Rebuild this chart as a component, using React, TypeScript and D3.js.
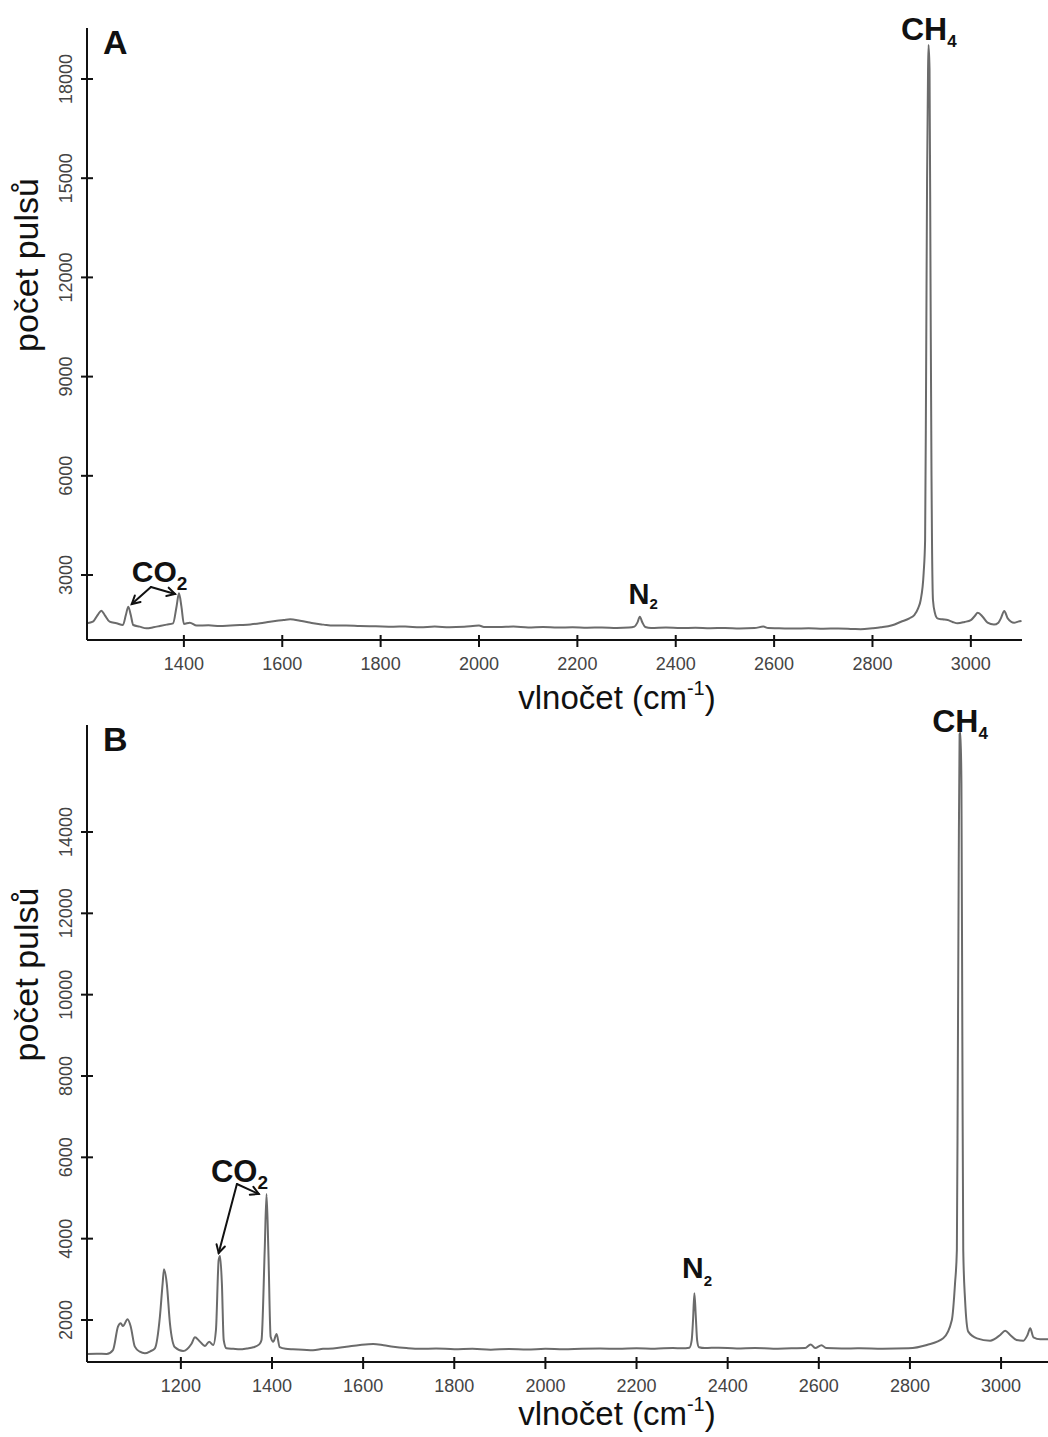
import React from "react";
import * as d3 from "d3";

// ---------- DATA ----------
// Panel A spectrum: [wavenumber (cm-1), counts]
const spectrumA: [number, number][] = [
  [1203, 1540], [1215, 1588], [1226, 1820], [1232, 1920], [1239, 1790], [1249, 1588],
  [1263, 1540], [1276, 1488], [1282, 1790], [1287, 2042], [1292, 1790], [1297, 1488],
  [1310, 1440], [1324, 1387], [1338, 1420], [1351, 1458], [1365, 1500], [1378, 1540],
  [1385, 2042], [1390, 2445], [1395, 2042], [1400, 1520], [1412, 1560], [1426, 1470],
  [1450, 1480], [1473, 1458], [1495, 1475], [1514, 1488], [1535, 1505], [1555, 1540],
  [1575, 1590], [1589, 1618], [1603, 1640], [1616, 1660], [1636, 1618], [1650, 1580],
  [1663, 1540], [1684, 1500], [1704, 1470], [1730, 1475], [1758, 1458], [1790, 1450],
  [1826, 1438], [1850, 1445], [1880, 1418], [1910, 1440], [1940, 1420], [1970, 1435],
  [2000, 1470], [2010, 1430], [2040, 1425], [2070, 1440], [2100, 1415], [2130, 1430],
  [2160, 1410], [2190, 1420], [2220, 1405], [2250, 1415], [2280, 1400], [2305, 1410],
  [2316, 1440], [2322, 1560], [2327, 1740], [2332, 1570], [2338, 1430], [2350, 1400],
  [2380, 1410], [2410, 1395], [2440, 1405], [2470, 1390], [2500, 1400], [2530, 1385],
  [2560, 1395], [2578, 1440], [2588, 1395], [2610, 1390], [2640, 1380], [2670, 1390],
  [2700, 1375], [2730, 1385], [2760, 1370], [2776, 1362], [2800, 1390], [2817, 1418],
  [2840, 1480], [2858, 1588], [2875, 1690], [2885, 1790], [2893, 2000], [2898, 2244],
  [2904, 3050], [2907, 4058], [2909, 9000], [2911, 15000], [2913, 18300], [2914, 19030],
  [2916, 18300], [2918, 12000], [2920, 6000], [2921, 4058], [2923, 2244], [2927, 1850],
  [2932, 1690], [2942, 1660], [2953, 1639], [2963, 1580], [2973, 1540], [2987, 1580],
  [3000, 1639], [3008, 1760], [3014, 1860], [3024, 1740], [3034, 1560], [3047, 1500],
  [3056, 1560], [3061, 1690], [3068, 1911], [3075, 1690], [3088, 1560], [3096, 1590],
  [3103, 1610],
];

// Panel B spectrum: [wavenumber (cm-1), counts]
const spectrumB: [number, number][] = [
  [994, 1164], [1015, 1170], [1037, 1164], [1051, 1262], [1062, 1836], [1068, 1918],
  [1073, 1852], [1083, 2016], [1090, 1836], [1099, 1344], [1110, 1220], [1121, 1180],
  [1133, 1230], [1143, 1303], [1154, 2082], [1160, 2902], [1163, 3246], [1169, 2902],
  [1176, 1918], [1187, 1328], [1205, 1238], [1223, 1410], [1231, 1574], [1240, 1492],
  [1253, 1361], [1262, 1467], [1271, 1385], [1277, 1754], [1283, 3475], [1286, 3574],
  [1290, 2902], [1294, 1508], [1300, 1303], [1315, 1290], [1330, 1279], [1345, 1300],
  [1359, 1328], [1372, 1400], [1377, 1508], [1384, 3721], [1388, 5098], [1392, 3721],
  [1397, 1590], [1403, 1467], [1410, 1656], [1417, 1330], [1430, 1290], [1446, 1279],
  [1468, 1270], [1490, 1255], [1512, 1290], [1534, 1300], [1563, 1340], [1593, 1385],
  [1622, 1410], [1645, 1380], [1666, 1344], [1695, 1310], [1725, 1290], [1760, 1300],
  [1800, 1280], [1840, 1290], [1880, 1270], [1920, 1285], [1960, 1275], [2000, 1290],
  [2040, 1280], [2080, 1295], [2120, 1300], [2160, 1290], [2200, 1305], [2240, 1295],
  [2280, 1310], [2300, 1305], [2316, 1320], [2321, 1500], [2324, 2000], [2327, 2660],
  [2330, 2100], [2333, 1500], [2337, 1330], [2350, 1310], [2380, 1320], [2420, 1300],
  [2460, 1310], [2500, 1295], [2540, 1305], [2570, 1310], [2582, 1400], [2592, 1310],
  [2606, 1380], [2616, 1310], [2650, 1300], [2690, 1304], [2740, 1295], [2797, 1304],
  [2837, 1385], [2873, 1549], [2892, 2000], [2899, 2902], [2903, 3721], [2905, 8000],
  [2907, 13000], [2909, 16400], [2911, 16440], [2913, 15200], [2915, 9000], [2917, 3721],
  [2921, 2492], [2928, 1713], [2947, 1549], [2976, 1492], [2998, 1631], [3009, 1738],
  [3020, 1631], [3034, 1508], [3049, 1492], [3058, 1631], [3064, 1795], [3071, 1574],
  [3086, 1525], [3103, 1525],
];

const xTicksA = [1400, 1600, 1800, 2000, 2200, 2400, 2600, 2800, 3000];
const yTicksA = [3000, 6000, 9000, 12000, 15000, 18000];
const xTicksB = [1200, 1400, 1600, 1800, 2000, 2200, 2400, 2600, 2800, 3000];
const yTicksB = [2000, 4000, 6000, 8000, 10000, 12000, 14000];

const xDomainA: [number, number] = [1203, 3104];
const yDomainA: [number, number] = [1035, 19542];
const xDomainB: [number, number] = [994, 3103];
const yDomainB: [number, number] = [967, 16631];

const yTitle = "počet pulsů";
const xTitle = "vlnočet (cm";

// annotations in data space: label anchor [wavenumber, counts]
type Ann = {
  main: string;
  sub: string;
  at: [number, number];
  size: number;
  subSize: number;
  subDy: number;
  arrows?: { from: [number, number]; to: [number, number][] };
};

const annotationsA: Ann[] = [
  { main: "CO", sub: "2", at: [1294, 2788], size: 30, subSize: 19, subDy: 8,
    arrows: { from: [1333, 2637], to: [[1294, 2123], [1382, 2425]] } },
  { main: "N", sub: "2", at: [2304, 2123], size: 29, subSize: 15, subDy: 5 },
  { main: "CH", sub: "4", at: [2858, 19178], size: 32, subSize: 17, subDy: 7 },
];
const annotationsB: Ann[] = [
  { main: "CO", sub: "2", at: [1266, 5393], size: 31, subSize: 19, subDy: 7,
    arrows: { from: [1323, 5344], to: [[1283, 3648], [1371, 5098]] } },
  { main: "N", sub: "2", at: [2300, 3033], size: 30, subSize: 15, subDy: 8 },
  { main: "CH", sub: "4", at: [2849, 16459], size: 32, subSize: 17, subDy: 7 },
];

const FONT = "'Liberation Sans', Arial, Helvetica, sans-serif";
const LINE_COLOR = "#6b6b6b";

type PanelProps = {
  letter: string;
  data: [number, number][];
  xDomain: [number, number];
  yDomain: [number, number];
  xTicks: number[];
  yTicks: number[];
  left: number;
  right: number;
  top: number;
  bottom: number;
  titleOffset: number;
  anns: Ann[];
};

function Arrow({ x1, y1, x2, y2 }: { x1: number; y1: number; x2: number; y2: number }) {
  const ang = Math.atan2(y2 - y1, x2 - x1);
  const L = 9;
  const spread = 0.5;
  const a1 = ang + Math.PI - spread;
  const a2 = ang + Math.PI + spread;
  return (
    <g stroke="#111" strokeWidth={2} fill="none" strokeLinecap="round">
      <line x1={x1} y1={y1} x2={x2} y2={y2} />
      <path
        d={`M${x2 + L * Math.cos(a1)},${y2 + L * Math.sin(a1)} L${x2},${y2} L${x2 + L * Math.cos(a2)},${y2 + L * Math.sin(a2)}`}
      />
    </g>
  );
}

function Panel(p: PanelProps) {
  const x = d3.scaleLinear().domain(p.xDomain).range([p.left, p.right]);
  const y = d3.scaleLinear().domain(p.yDomain).range([p.bottom, p.top]);
  const line = d3
    .line<[number, number]>()
    .x((d) => x(d[0]))
    .y((d) => y(d[1]))
    .curve(d3.curveMonotoneX);
  const midY = (p.top + p.bottom) / 2;
  const midX = 617;
  return (
    <g fontFamily={FONT}>
      <path d={line(p.data) || ""} fill="none" stroke={LINE_COLOR} strokeWidth={2} strokeLinejoin="round" />
      {/* axes */}
      <line x1={p.left} y1={p.top} x2={p.left} y2={p.bottom} stroke="#111" strokeWidth={2} />
      <line x1={p.left} y1={p.bottom} x2={p.right} y2={p.bottom} stroke="#111" strokeWidth={2} />
      {p.xTicks.map((t) => (
        <g key={"x" + t}>
          <line x1={x(t)} x2={x(t)} y1={p.bottom - 5} y2={p.bottom + 7} stroke="#111" strokeWidth={2} />
          <text x={x(t)} y={p.bottom + 30} textAnchor="middle" fontSize={18} fill="#444">
            {t}
          </text>
        </g>
      ))}
      {p.yTicks.map((t) => (
        <g key={"y" + t}>
          <line x1={p.left - 6} x2={p.left + 6} y1={y(t)} y2={y(t)} stroke="#111" strokeWidth={2} />
          <text
            transform={`translate(${p.left - 15},${y(t)}) rotate(-90)`}
            textAnchor="middle"
            fontSize={18}
            fill="#444"
          >
            {t}
          </text>
        </g>
      ))}
      {/* titles */}
      <text
        transform={`translate(38,${midY - 69}) rotate(-90)`}
        textAnchor="middle"
        fontSize={34}
        fill="#111"
      >
        {yTitle}
      </text>
      <text x={midX} y={p.bottom + p.titleOffset} textAnchor="middle" fontSize={33} fill="#111">
        {xTitle}
        <tspan fontSize={20} dy={-14}>-1</tspan>
        <tspan dy={14}>)</tspan>
      </text>
      {/* panel letter */}
      <text x={p.left + 16} y={p.top + 26} fontSize={34} fontWeight="bold" fill="#111">
        {p.letter}
      </text>
      {/* annotations */}
      {p.anns.map((a, i) => (
        <g key={"a" + i}>
          <text x={x(a.at[0])} y={y(a.at[1])} fontSize={a.size} fontWeight="bold" fill="#111">
            {a.main}
            <tspan fontSize={a.subSize} dy={a.subDy}>
              {a.sub}
            </tspan>
          </text>
          {a.arrows &&
            a.arrows.to.map((t, j) => (
              <Arrow
                key={j}
                x1={x(a.arrows!.from[0])}
                y1={y(a.arrows!.from[1])}
                x2={x(t[0])}
                y2={y(t[1])}
              />
            ))}
        </g>
      ))}
    </g>
  );
}

export default function App() {
  return (
    <svg
      width={1048}
      height={1437}
      style={{ position: "absolute", left: 0, top: 0, background: "#fff" }}
    >
      <rect width={1048} height={1437} fill="#fff" />
      <Panel
        letter="A"
        data={spectrumA}
        xDomain={xDomainA}
        yDomain={yDomainA}
        xTicks={xTicksA}
        yTicks={yTicksA}
        left={87}
        right={1022}
        top={28}
        bottom={640}
        titleOffset={69}
        anns={annotationsA}
      />
      <Panel
        letter="B"
        data={spectrumB}
        xDomain={xDomainB}
        yDomain={yDomainB}
        xTicks={xTicksB}
        yTicks={yTicksB}
        left={87}
        right={1048}
        top={725}
        bottom={1362}
        titleOffset={63}
        anns={annotationsB}
      />
    </svg>
  );
}
